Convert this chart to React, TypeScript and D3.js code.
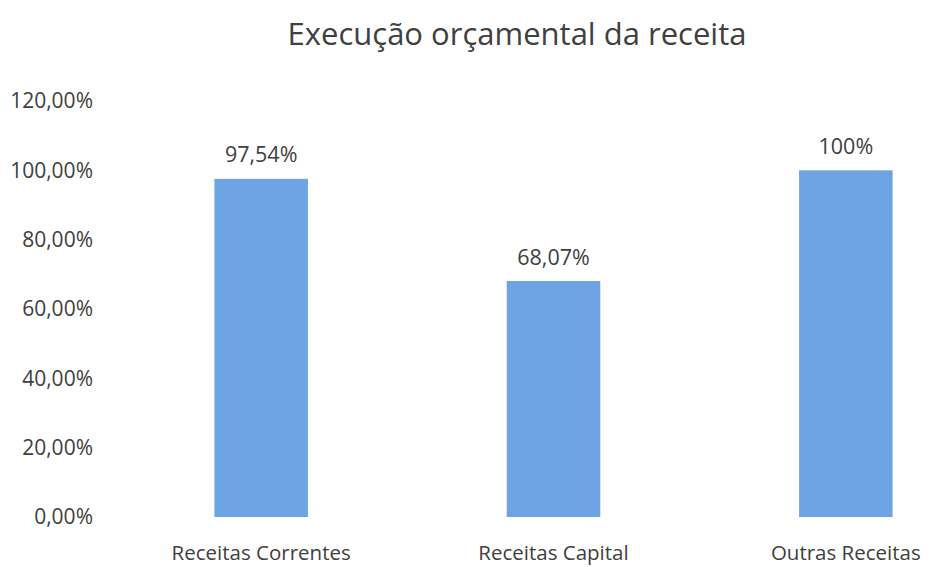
import React from 'react';
import * as d3 from 'd3';

const categories = ['Receitas Correntes', 'Receitas Capital', 'Outras Receitas'];
const values = [97.54, 68.07, 100];
const valueLabels = ['97,54%', '68,07%', '100%'];
const yTicks = [0, 20, 40, 60, 80, 100, 120];

const W = 930;
const H = 567;
const FONT = '"Open Sans", Calibri, sans-serif';
const TEXT = '#404040';
const BAR = '#6fa4e4';

const App = () => {
  // plot area runs past the right edge of the picture (original was cropped)
  const x = d3.scaleBand<string>()
    .domain(categories)
    .range([115, 992])
    .paddingInner(0.68)
    .paddingOuter(0.34);

  const y = d3.scaleLinear().domain([0, 120]).range([517, 101]);
  const fmt = (v: number) => v.toFixed(2).replace('.', ',') + '%';

  return (
    <svg width={W} height={H} style={{ position: 'absolute', left: 0, top: 0, background: '#fff' }}
      fontFamily={FONT}>
      <text x={517} y={34} dy="0.35em" textAnchor="middle" fontSize={31} fill={TEXT}>
        Execução orçamental da receita
      </text>

      {yTicks.map(t => (
        <text key={t} x={93} y={y(t)} dy="0.35em" textAnchor="end" fontSize={21} fill={TEXT}>
          {fmt(t)}
        </text>
      ))}

      {categories.map((c, i) => (
        <g key={c}>
          <rect x={x(c)} y={y(values[i])} width={x.bandwidth()} height={y(0) - y(values[i])} fill={BAR} />
          <text x={(x(c) as number) + x.bandwidth() / 2} y={y(values[i]) - 24} dy="0.35em"
            textAnchor="middle" fontSize={21.5} fill={TEXT}>
            {valueLabels[i]}
          </text>
          <text x={(x(c) as number) + x.bandwidth() / 2} y={553} dy="0.35em"
            textAnchor="middle" fontSize={20.5} fill={TEXT}>
            {c}
          </text>
        </g>
      ))}
    </svg>
  );
};

export default App;
